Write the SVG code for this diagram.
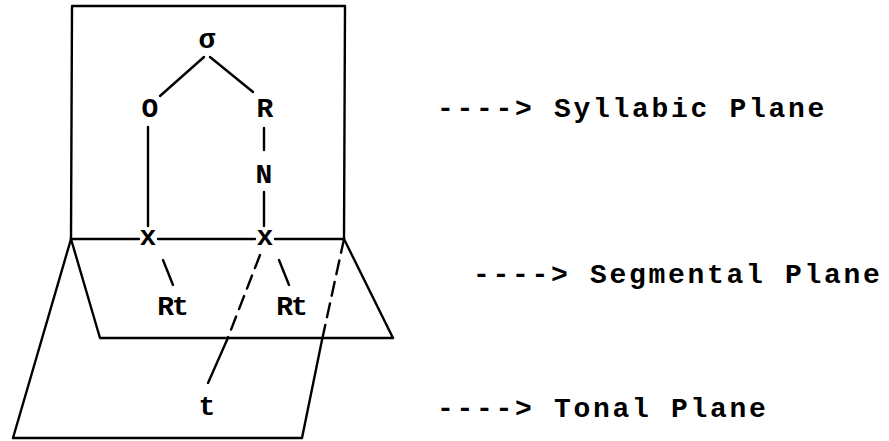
<svg xmlns="http://www.w3.org/2000/svg" width="889" height="441" viewBox="0 0 889 441">
<style>
.ln{stroke:#000;stroke-width:2.4;fill:none;stroke-linecap:round;stroke-linejoin:round}
.dash{stroke-dasharray:14 8}
.lbl{font-family:"Liberation Mono","DejaVu Sans Mono",monospace;font-size:28px;font-weight:bold;fill:#000;text-anchor:middle}
.cap{font-family:"Liberation Mono","DejaVu Sans Mono",monospace;font-size:28px;font-weight:bold;letter-spacing:2.7px;fill:#000}
</style>
<rect width="889" height="441" fill="#fff"/>
<g id="planes">
  <g id="syllabic-plane"><polyline class="ln" points="71,239 72,6 345,6 344,239"/></g>
  <g id="segmental-plane"><polyline class="ln" points="71,239 100,338 393,338 344,239"/></g>
  <g id="tonal-plane">
    <polyline class="ln" points="71,239 13,438 302,438 322,340"/>
    <line class="ln dash" x1="344" y1="239" x2="322" y2="340"/>
  </g>
  <g id="plane-edge">
    <line class="ln" x1="71" y1="239" x2="139" y2="239"/>
    <line class="ln" x1="158" y1="239" x2="255" y2="239"/>
    <line class="ln" x1="275" y1="239" x2="344" y2="239"/>
  </g>
</g>
<g id="connectors">
  <line class="ln" x1="204" y1="57" x2="160" y2="96"/>
  <line class="ln" x1="210" y1="57" x2="253" y2="92"/>
  <line class="ln" x1="148" y1="127" x2="148" y2="226"/>
  <line class="ln" x1="264" y1="128" x2="264" y2="150"/>
  <line class="ln" x1="264" y1="192" x2="264" y2="226"/>
  <line class="ln" x1="163" y1="260" x2="173" y2="285"/>
  <line class="ln" x1="279" y1="260" x2="289" y2="285"/>
  <line class="ln dash" x1="260" y1="255" x2="227" y2="340"/>
  <line class="ln" x1="227" y1="340" x2="208" y2="383"/>
</g>
<g id="sigma"><text class="lbl" x="207" y="48">σ</text></g>
<g id="O"><text class="lbl" x="150" y="117">O</text></g>
<g id="R"><text class="lbl" x="265" y="117">R</text></g>
<g id="N"><text class="lbl" x="264" y="183">N</text></g>
<g id="x1"><text class="lbl" x="148" y="245">x</text></g>
<g id="x2"><text class="lbl" x="265" y="245">x</text></g>
<g id="Rt1"><text class="lbl" x="172" y="315" letter-spacing="-2">Rt</text></g>
<g id="Rt2"><text class="lbl" x="291" y="315" letter-spacing="-2">Rt</text></g>
<g id="t"><text class="lbl" x="207" y="415">t</text></g>
<g id="labels">
  <text class="cap" x="437" y="117">----&gt; Syllabic Plane</text>
  <text class="cap" x="473" y="283">----&gt; Segmental Plane</text>
  <text class="cap" x="437" y="417">----&gt; Tonal Plane</text>
</g>
</svg>
